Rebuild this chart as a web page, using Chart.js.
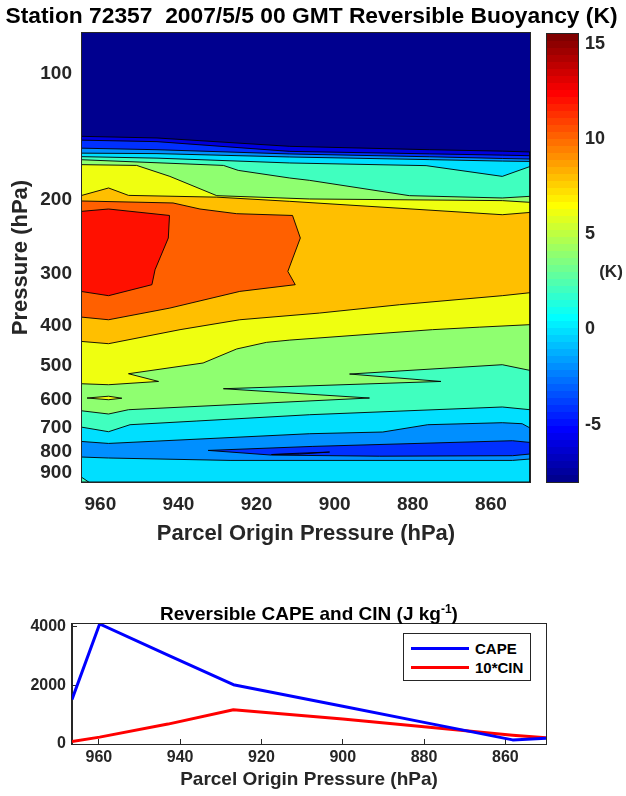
<!DOCTYPE html>
<html>
<head>
<meta charset="utf-8">
<script src="https://cdn.jsdelivr.net/npm/chart.js@4.4.1/dist/chart.umd.min.js"></script>
<style>
  html, body { margin:0; padding:0; background:#fff; width:626px; height:796px; overflow:hidden;
    font-family:'Liberation Sans', Arial, Helvetica, sans-serif; }
  canvas { position:absolute; }
  .txt { position:absolute; font-weight:bold; color:#262626; white-space:nowrap; }
  #leg { position:absolute; left:403px; top:633px; width:126px; height:46px; border:1px solid #262626; background:#fff; }
  #leg .ln { position:absolute; left:7px; width:58px; height:3px; }
  #leg .lt { position:absolute; left:71px; font-size:15px; line-height:15px; font-weight:bold; color:#000; }
</style>
</head>
<body>
<canvas id="c1" width="626" height="560" style="left:0;top:0;width:626px;height:560px"></canvas>
<canvas id="cb" width="96" height="560" style="left:530px;top:0;width:96px;height:560px"></canvas>
<canvas id="c2" width="626" height="236" style="left:0;top:560px;width:626px;height:236px"></canvas>
<div class="txt" style="left:0;top:4px;width:623px;text-align:center;font-size:22.8px;line-height:22.8px;color:#000">Station 72357&nbsp; 2007/5/5 00 GMT Reversible Buoyancy (K)</div>
<div class="txt" style="left:591px;top:263px;width:40px;text-align:center;font-size:17px;line-height:17px">(K)</div>
<div class="txt" style="left:0;top:604px;width:618px;text-align:center;font-size:19px;line-height:19px;color:#000">Reversible CAPE and CIN (J kg<sup style="font-size:12px;line-height:0">-1</sup>)</div>
<div id="leg"></div>
<script>
// ---------------- axis ranges / ticks ----------------
const originRange = [850, 964.7];          // parcel origin pressure (hPa), top panel
const pressureRange = [80, 945];           // pressure (hPa)
const pressureTicks = [100, 200, 300, 400, 500, 600, 700, 800, 900];
const originTicks = [860, 880, 900, 920, 940, 960];
const colorRange = [-8, 15.5];             // K
const colorTicks = [-5, 0, 5, 10, 15];

// ---------------- contour boundaries: [parcel origin p, p] ----------------
// upper stack (colder above, warmer below)
const bndM6 = [[965,141.2],[945.5,142.5],[911.5,149.2],[875.8,152.0],[857.1,153.2],[850,153.9]];
const bndM4 = [[965,144.2],[945.5,145.4],[911.5,153.4],[875.8,155.5],[857.1,156.6],[850,157.1]];
const bndM2 = [[965,150.7],[945.5,152.0],[911.5,155.6],[875.8,158.0],[857.1,159.5],[850,160.0]];
const bnd0  = [[965,154.9],[945.5,155.3],[911.5,158.2],[875.8,160.5],[857.1,161.8],[850,162.1]];
const bnd2  = [[965,157.9],[945.5,159.2],[911.5,163.5],[876.6,165.9],[857.1,176.0],[850,166.7]];
const bnd4  = [[965,160.6],[928.5,165.7],[924.7,170.3],[911.5,177.6],[906.4,179.9],[880.9,195.7],[857.1,198.2],[850,196.4]];
const bnd6  = [[965,165.0],[950.7,165.7],[942.2,176.0],[930.2,195.7],[906.4,199.3],[857.1,201.1],[850,203.0]];
const bnd8  = [[965,195.7],[957.9,187.6],[952.8,195.4],[930.2,197.3],[911.5,201.9],[857.1,217.3],[850,214.6]];
// lower stack (warmer above, colder below)
const low8  = [[965,436.1],[957.9,441.7],[939.6,408.9],[924.3,387.2],[903.9,373.2],[883.4,356.5],[857.1,339.2],[850,333.7]];
const low6  = [[965,550.5],[957.9,553.5],[945.1,543.6],[952.8,521.0],[933.7,491.2],[925.1,454.7],[917.5,438.5],[911.5,433.0],[875.0,408.9],[863.0,403.3],[850,397.8]];
const low4  = [[965,638.5],[957.9,650.2],[952.8,635.0],[891.1,595.5],[928.5,565.8],[872.8,543.6],[896.2,521.9],[857.1,495.8],[850,511.6]];
const low2  = [[965,698.4],[957.9,716.7],[952.4,689.6],[935.3,675.7],[906.4,652.7],[857.1,625.6],[850,635.0]];
const low0  = [[965,756.0],[957.9,764.4],[906.4,724.6],[887.7,717.9],[876.2,689.6],[857.1,682.1],[852,685.9],[850,702.2]];
const lowM2 = [[965,823.7],[957.9,828.2],[926.8,839.2],[854.5,839.2],[850,832.8]];
// closed features
const orangeCore = [[965,201.5],[941.4,203.7],[934.5,210.6],[925.1,216.1],[910.8,218.2],[908.8,247.0],[912.0,296.8],[910.1,319.3],[924.3,331.3],[942.2,363.1],[957.9,387.2],[965,381.5]];
const redCore    = [[965,213.4],[957.9,210.6],[942.3,218.2],[942.6,247.0],[946.0,294.1],[946.8,319.3],[957.9,339.2],[965,331.3]];
const yellowLens = [[963.4,595.5],[957.9,589.6],[954.5,596.1],[957.9,601.1]];
const blueLens   = [[932.4,794.3],[905.6,777.0],[854.5,753.1],[850,760.2],[850,810.2],[854.5,817.8],[888.5,820.0],[916.2,815.0]];
const darkLens   = [[916.2,812.5],[909,806.5],[901.3,801.5],[909,810.5]];
const aquaCorner = [[965,918.0],[963,945],[965,945]];

// ---------------- bottom panel ----------------
const parcelP  = [966.6, 959.8, 943, 926.9, 900, 880, 858.2, 850];
const capeVals = [1523, 4100, 3040, 2025, 1287, 738, 140, 200];
const cinVals  = [84, 235, 680, 1172, 856, 586, 295, 210];   // 10*CIN
const bottomOriginRange = [850, 966.6];
const energyRange = [0, 4100];
const energyTicks = [0, 2000, 4000];

// ---------------- helpers ----------------
const FONT = "'Liberation Sans', Arial, Helvetica, sans-serif";
const INK = '#262626';
function jet64(v) {
  const i = Math.min(64, Math.max(1, Math.floor((v - colorRange[0]) / (colorRange[1] - colorRange[0]) * 64) + 1));
  const u = k => (k < 1 || k > 47) ? 0 : (k <= 16 ? k / 16 : (k <= 31 ? 1 : (48 - k) / 16));
  const c = x => Math.round(x * 255);
  return `rgb(${c(u(i - 24))},${c(u(i - 8))},${c(u(i + 8))})`;
}
const xL = 965, xR = 850;
const below = line => [...line, [xR, pressureRange[1]], [xL, pressureRange[1]]];
const closed = pts => [...pts, pts[0]];
const box = [[xL, pressureRange[0]], [xR, pressureRange[0]], [xR, pressureRange[1]], [xL, pressureRange[1]]];

const regions = [
  { pts: box, level: -8, edge: false },
  { pts: below(bndM6), level: -6 },
  { pts: below(bndM4), level: -4 },
  { pts: below(bndM2), level: -2 },
  { pts: below(bnd0), level: 0 },
  { pts: below(bnd2), level: 2 },
  { pts: below(bnd4), level: 4 },
  { pts: below(bnd6), level: 6 },
  { pts: below(bnd8), level: 8 },
  { pts: below(low8), level: 6 },
  { pts: below(low6), level: 4 },
  { pts: below(low4), level: 2 },
  { pts: below(low2), level: 0 },
  { pts: below(low0), level: -2 },
  { pts: below(lowM2), level: 0 },
  { pts: closed(orangeCore), level: 10 },
  { pts: closed(redCore), level: 12 },
  { pts: closed(yellowLens), level: 6 },
  { pts: closed(blueLens), level: -4 },
  { pts: closed(darkLens), level: -6 },
  { pts: closed(aquaCorner), level: 2 },
];

const framePlugin = {
  id: 'frame',
  afterDraw(chart) {
    const { ctx, chartArea: a } = chart;
    ctx.save();
    ctx.strokeStyle = INK; ctx.lineWidth = 1;
    ctx.strokeRect(Math.round(a.left) - 0.5, Math.round(a.top) - 0.5, Math.round(a.right - a.left) + 1, Math.round(a.bottom - a.top) + 1);
    ctx.restore();
  }
};

const tickFont = size => ({ family: FONT, size, weight: 'bold' });
function axisCommon(extra) {
  return Object.assign({
    z: 1,
    grid: { drawOnChartArea: false, drawTicks: true, tickLength: -5, color: INK, lineWidth: 1 },
    border: { color: INK, width: 1 },
  }, extra);
}

// ---------------- top panel: contour ----------------
new Chart(document.getElementById('c1'), {
  type: 'line',
  data: {
    datasets: regions.map((r, i) => ({
      data: r.pts.map(([x, y]) => ({ x, y })),
      backgroundColor: jet64(r.level),
      borderColor: r.edge === false ? 'rgba(0,0,0,0)' : 'rgba(0,0,0,0.9)',
      borderWidth: r.edge === false ? 0 : 1,
      fill: 'shape',
      pointRadius: 0,
      tension: 0,
      order: regions.length - i,
    }))
  },
  options: {
    responsive: false, animation: false, events: [],
    layout: { padding: { left: 0, right: 96, top: 33, bottom: 0 } },
    plugins: { legend: { display: false }, tooltip: { enabled: false }, title: { display: false } },
    scales: {
      x: axisCommon({
        type: 'linear', reverse: true, min: originRange[0], max: originRange[1],
        afterFit: s => { s.height = 78; },
        afterBuildTicks: s => { s.ticks = originTicks.map(v => ({ value: v })); },
        ticks: { color: INK, font: tickFont(19), padding: 16, maxRotation: 0, autoSkip: false, callback: v => String(v) },
        title: { display: true, text: 'Parcel Origin Pressure (hPa)', color: INK,
          font: { family: FONT, size: 22, weight: 'bold', lineHeight: 1.2 }, padding: { top: 0, bottom: 13 } }
      }),
      y: axisCommon({
        type: 'logarithmic', reverse: true, min: pressureRange[0], max: pressureRange[1],
        afterFit: s => { s.width = 82; },
        afterBuildTicks: s => { s.ticks = pressureTicks.map(v => ({ value: v })); },
        ticks: { color: INK, font: tickFont(19), padding: 15, autoSkip: false, callback: v => String(v) },
        title: { display: true, text: 'Pressure (hPa)', color: INK,
          font: { family: FONT, size: 22, weight: 'bold', lineHeight: 1.2 }, padding: { top: 8, bottom: 0 } }
      })
    }
  },
  plugins: [framePlugin]
});

// ---------------- colorbar ----------------
function jetGradient(context) {
  const chart = context.chart;
  const y = chart.scales && chart.scales.y;
  if (!chart.chartArea || !y) return jet64(0);
  const y0 = y.getPixelForValue(colorRange[0]), y1 = y.getPixelForValue(colorRange[1]);
  const g = chart.ctx.createLinearGradient(0, y0, 0, y1);
  const span = colorRange[1] - colorRange[0];
  for (let i = 1; i <= 64; i++) {
    const col = jet64(colorRange[0] + (i - 0.5) * span / 64);
    g.addColorStop((i - 1) / 64, col);
    g.addColorStop(i / 64, col);
  }
  return g;
}
new Chart(document.getElementById('cb'), {
  type: 'bar',
  data: { labels: ['K'], datasets: [{ data: [[colorRange[0], colorRange[1]]], backgroundColor: jetGradient, borderWidth: 0,
    barPercentage: 1, categoryPercentage: 1 }] },
  options: {
    responsive: false, animation: false, events: [],
    layout: { padding: { left: 17, right: 0, top: 34, bottom: 78 } },
    plugins: { legend: { display: false }, tooltip: { enabled: false } },
    scales: {
      x: { display: false },
      y: axisCommon({
        type: 'linear', position: 'right', min: colorRange[0], max: colorRange[1],
        afterFit: s => { s.width = 48; },
        afterBuildTicks: s => { s.ticks = colorTicks.map(v => ({ value: v })); },
        ticks: { color: INK, font: tickFont(18), padding: 12, autoSkip: false, callback: v => String(v) }
      })
    }
  },
  plugins: [framePlugin]
});

// ---------------- bottom panel: CAPE / CIN ----------------
const lineSets = [
  { label: 'CAPE', values: capeVals, color: '#0000ff' },
  { label: '10*CIN', values: cinVals, color: '#ff0000' },
];
const c2 = new Chart(document.getElementById('c2'), {
  type: 'line',
  data: {
    datasets: lineSets.map(s => ({
      label: s.label,
      data: parcelP.map((x, i) => ({ x, y: s.values[i] })),
      borderColor: s.color, backgroundColor: s.color, borderWidth: 3, pointRadius: 0, fill: false, tension: 0,
      borderJoinStyle: 'round'
    }))
  },
  options: {
    responsive: false, animation: false, events: [],
    layout: { padding: { left: 0, right: 80, top: 64, bottom: 0 } },
    plugins: { legend: { display: false }, tooltip: { enabled: false } },
    scales: {
      x: axisCommon({
        type: 'linear', reverse: true, min: bottomOriginRange[0], max: bottomOriginRange[1],
        afterFit: s => { s.height = 52; },
        afterBuildTicks: s => { s.ticks = originTicks.map(v => ({ value: v })); },
        ticks: { color: INK, font: tickFont(16), padding: 9, maxRotation: 0, autoSkip: false, callback: v => String(v) },
        title: { display: true, text: 'Parcel Origin Pressure (hPa)', color: INK,
          font: { family: FONT, size: 19, weight: 'bold', lineHeight: 1.2 }, padding: { top: 0, bottom: 5 } }
      }),
      y: axisCommon({
        type: 'linear', min: energyRange[0], max: energyRange[1],
        afterFit: s => { s.width = 72; },
        afterBuildTicks: s => { s.ticks = energyTicks.map(v => ({ value: v })); },
        ticks: { color: INK, font: tickFont(16), padding: 11, autoSkip: false, callback: v => String(v) }
      })
    }
  },
  plugins: [framePlugin]
});

// legend built from the datasets
const leg = document.getElementById('leg');
c2.data.datasets.forEach((d, i) => {
  const y = 14 + i * 19;
  const ln = document.createElement('div');
  ln.className = 'ln'; ln.style.top = (y - 1) + 'px'; ln.style.background = d.borderColor;
  const lt = document.createElement('div');
  lt.className = 'lt'; lt.style.top = (y - 7) + 'px'; lt.textContent = d.label;
  leg.appendChild(ln); leg.appendChild(lt);
});
</script>
</body>
</html>
